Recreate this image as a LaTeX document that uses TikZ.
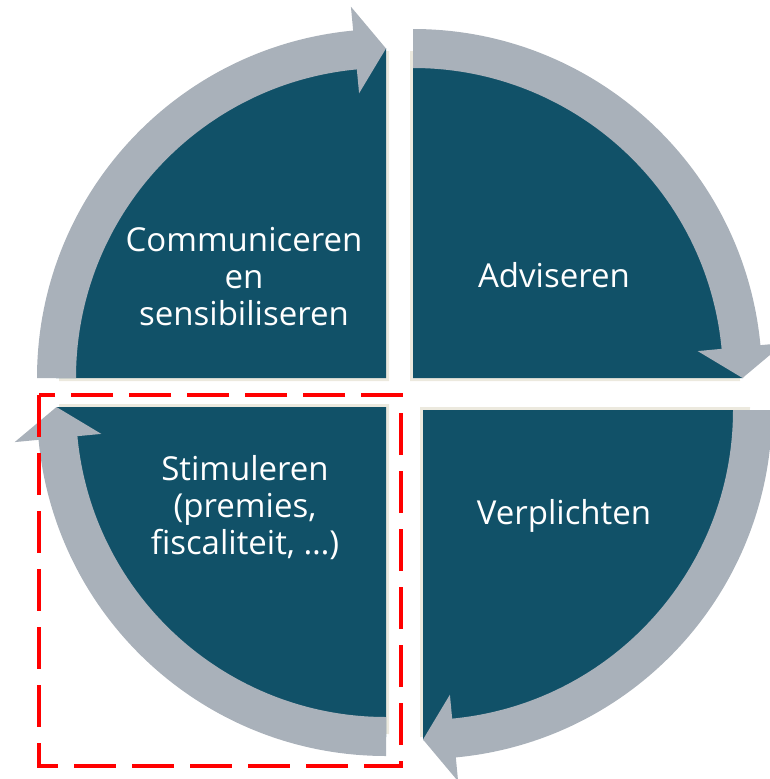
\documentclass[tikz,border=0pt]{standalone}
\usepackage{fontspec}
\setmainfont{Open Sans}
\begin{document}
\begin{tikzpicture}[x=1pt,y=1pt]
\definecolor{petrol}{RGB}{17,81,104}
\definecolor{arrowgrey}{RGB}{169,177,186}
\definecolor{beigeshadow}{RGB}{236,233,222}
\definecolor{marker}{RGB}{255,0,0}
\tikzset{
  quadtext/.style={text=white, font=\fontsize{33}{37}\selectfont, align=center, inner sep=0pt},
  selection/.style={draw=marker, line width=4pt, dash pattern=on 42pt off 16pt},
}
\useasboundingbox (0,0) rectangle (769,-779);
\newcommand\quadpiece[5]{%
  \begin{scope}[shift={(#1,#2)}]
    \fill[beigeshadow] (#4,#5) -- ++(#3:330) arc[start angle=#3, end angle=#3-90, radius=330] -- cycle;
    \fill[petrol] (0,0) -- (#3:330) arc[start angle=#3, end angle=#3-90, radius=330] -- cycle;
    \fill[arrowgrey] (#3:349) arc[start angle=#3, end angle=#3-84.6, radius=349]
      -- (#3-84.6:373) -- (#3-90:329.5) -- (#3-84.6:286) -- (#3-84.6:310)
      arc[start angle=#3-84.6, end angle=#3, radius=310] -- cycle;
  \end{scope}}
\quadpiece{386}{-378}{180}{3}{-3}
\quadpiece{413}{-378}{90}{-3}{-3}
\quadpiece{423}{-410}{0}{-3}{3}
\quadpiece{386}{-407}{270}{3}{3}
\node[quadtext] (comm) at (244,-276.5) {Communiceren\\en\\sensibiliseren};
\node[quadtext, anchor=base] (adv) at (554,-287) {Adviseren};
\node[quadtext] (stim) at (245,-508) {Stimuleren\\(premies,\\fiscaliteit, …)};
\node[quadtext, anchor=base] (verp) at (564,-524) {Verplichten};
\draw[selection] (39,-395) rectangle (401,-766);
\end{tikzpicture}
\end{document}
